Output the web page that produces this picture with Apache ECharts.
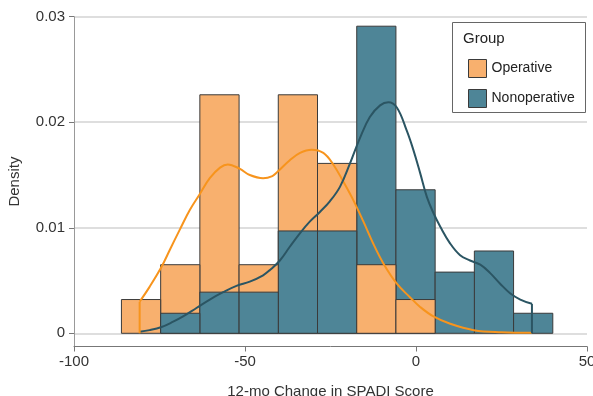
<!DOCTYPE html>
<html>
<head>
<meta charset="utf-8">
<script src="https://cdn.jsdelivr.net/npm/echarts@6/dist/echarts.min.js"></script>
<style>
html,body{margin:0;padding:0;background:#fff;}
#chart{width:593px;height:396px;}
</style>
</head>
<body>
<div id="chart"></div>
<script>
// ---- data ----
const binEdges = [-86.13, -74.66, -63.20, -51.73, -40.27, -28.80, -17.33, -5.87, 5.60, 17.06, 28.53, 40.0];
const operativeDensity    = [0.0032, 0.0065, 0.0226, 0.0065, 0.0226, 0.0161, 0.0065, 0.0032, 0, 0, 0];
const nonoperativeDensity = [0, 0.0019, 0.0039, 0.0039, 0.0097, 0.0097, 0.0291, 0.0136, 0.0058, 0.0078, 0.0019];

const opCurveX = [-80.8, -77.9, -74.4, -72.0, -69.1, -66.1, -63.2, -60.3, -57.3, -55.0, -51.6, -48.6, -44.7, -42.0, -40.5, -36.9, -33.9, -30.5, -27.1, -24.2, -21.3, -18.3, -15.4, -12.5, -9.5, -5.6, -1.7, 1.2, 5.1, 10.0, 16.9, 25.0, 33.9];
const opCurveY = [0.0030, 0.0044, 0.0063, 0.0079, 0.0098, 0.0117, 0.0132, 0.0147, 0.0157, 0.0160, 0.0156, 0.0150, 0.0147, 0.0149, 0.0153, 0.0164, 0.0171, 0.0174, 0.0171, 0.0160, 0.0144, 0.0126, 0.0106, 0.0085, 0.0066, 0.0047, 0.0034, 0.0025, 0.0016, 0.0009, 0.0003, 0.0001, 0.00005];

const nonCurveX = [-80.8, -77.9, -74.4, -71.0, -68.1, -64.2, -60.3, -56.4, -52.5, -48.6, -44.7, -42.7, -39.8, -36.9, -33.9, -31.0, -28.1, -25.2, -22.2, -19.3, -16.4, -13.5, -10.5, -8.1, -5.6, -2.7, -0.8, 1.2, 3.2, 5.1, 7.1, 10.0, 12.9, 15.8, 18.8, 21.7, 24.6, 27.5, 30.5, 33.9];
const nonCurveY = [0.00015, 0.0003, 0.0006, 0.0011, 0.0016, 0.0024, 0.0032, 0.0039, 0.0045, 0.0049, 0.0055, 0.0060, 0.0069, 0.0082, 0.0095, 0.0106, 0.0115, 0.0125, 0.0139, 0.0161, 0.0185, 0.0205, 0.0216, 0.0219, 0.0214, 0.0192, 0.0174, 0.0152, 0.0129, 0.0114, 0.0101, 0.0085, 0.0074, 0.0069, 0.0065, 0.0057, 0.0047, 0.0038, 0.0032, 0.0028];

const xTicks = [-100, -50, 0, 50];
const yTicks = [0, 0.01, 0.02, 0.03];
const groupNames = ['Operative', 'Nonoperative'];

// ---- styles ----
const FONT = '"Liberation Sans", Arial, sans-serif';
const opFill = '#F8B06E', nonFill = '#4E8597';
const opLine = '#F7941D', nonLine = '#2B5563';
const barStroke = '#3a3a3a';

function binData(dens) {
  return dens.map((d, i) => [binEdges[i], binEdges[i + 1], d]);
}
function makeRender(fill) {
  return function (params, api) {
    const h = api.value(2);
    if (!h) return null;
    const p0 = api.coord([api.value(0), h]);
    const p1 = api.coord([api.value(1), 0]);
    return {
      type: 'rect',
      shape: { x: p0[0], y: p0[1], width: p1[0] - p0[0], height: p1[1] - p0[1] },
      style: { fill: fill, stroke: barStroke, lineWidth: 1 },
      z2: Math.round((0.05 - h) * 10000)
    };
  };
}
const pairs = (xs, ys) => xs.map((x, i) => [x, ys[i]]);

const chart = echarts.init(document.getElementById('chart'), null, { renderer: 'canvas' });
const lastN = nonCurveX.length - 1;
chart.setOption({
  animation: false,
  backgroundColor: '#fff',
  textStyle: { fontFamily: FONT },
  grid: { left: 74, right: 6, top: 16.7, bottom: 49.5, containLabel: false, outerBoundsMode: 'none' },
  xAxis: {
    type: 'value', min: -100, max: 50, interval: 50,
    name: '12-mo Change in SPADI Score', nameLocation: 'middle', nameGap: 38,
    nameTextStyle: { fontSize: 15, color: '#333', fontFamily: FONT },
    axisLine: { show: true, onZero: false, lineStyle: { color: '#777', width: 1 } },
    axisTick: { show: true, length: 5, lineStyle: { color: '#777' }, customValues: xTicks },
    axisLabel: { fontSize: 15, color: '#333', margin: 8, fontFamily: FONT, customValues: xTicks },
    splitLine: { show: false }
  },
  yAxis: {
    type: 'value', min: -0.00125, max: 0.03,
    name: 'Density', nameLocation: 'middle', nameGap: 52,
    nameTextStyle: { fontSize: 15, color: '#333', fontFamily: FONT },
    axisLine: { show: true, onZero: false, lineStyle: { color: '#999', width: 1 } },
    axisTick: { show: true, length: 5, lineStyle: { color: '#777' }, customValues: yTicks },
    axisLabel: { fontSize: 15, color: '#333', margin: 9, fontFamily: FONT, customValues: yTicks,
      formatter: v => (v === 0 ? '0' : v.toFixed(2)) },
    splitLine: { show: true, lineStyle: { color: '#DEDEDE', width: 2 } }
  },
  legend: {
    orient: 'vertical', left: 463, top: 54, itemWidth: 18, itemHeight: 18, itemGap: 11,
    selectedMode: false, icon: 'rect',
    textStyle: { fontSize: 14, color: '#222', fontFamily: FONT },
    data: [
      { name: groupNames[0], itemStyle: { color: opFill, borderColor: barStroke, borderWidth: 1 } },
      { name: groupNames[1], itemStyle: { color: nonFill, borderColor: barStroke, borderWidth: 1 } }
    ],
    z: 10
  },
  graphic: [
    { type: 'rect', z: 8, shape: { x: 452.5, y: 22.5, width: 133, height: 90 },
      style: { fill: '#fff', stroke: '#666', lineWidth: 1 } },
    { type: 'text', z: 9, x: 463, y: 38.5,
      style: { text: 'Group', fontSize: 15, fill: '#222', fontFamily: FONT, verticalAlign: 'middle' } }
  ],
  series: [
    { name: groupNames[0], type: 'custom', silent: true, z: 2,
      itemStyle: { color: opFill, borderColor: barStroke, borderWidth: 1 },
      encode: { x: [0, 1], y: 2 },
      data: binData(operativeDensity), renderItem: makeRender(opFill) },
    { name: groupNames[1], type: 'custom', silent: true, z: 2,
      itemStyle: { color: nonFill, borderColor: barStroke, borderWidth: 1 },
      encode: { x: [0, 1], y: 2 },
      data: binData(nonoperativeDensity), renderItem: makeRender(nonFill) },
    { name: 'opCurve', type: 'line', smooth: 0.4, symbol: 'none', silent: true, z: 5,
      lineStyle: { color: opLine, width: 2 }, data: pairs(opCurveX, opCurveY) },
    { name: 'nonCurve', type: 'line', smooth: 0.4, symbol: 'none', silent: true, z: 5,
      lineStyle: { color: nonLine, width: 2 }, data: pairs(nonCurveX, nonCurveY) },
    { name: 'opEdge', type: 'line', symbol: 'none', silent: true, z: 5,
      lineStyle: { color: opLine, width: 2 }, data: [[opCurveX[0], 0], [opCurveX[0], opCurveY[0]]] },
    { name: 'nonEdge', type: 'line', symbol: 'none', silent: true, z: 5,
      lineStyle: { color: nonLine, width: 2 }, data: [[nonCurveX[lastN], nonCurveY[lastN]], [nonCurveX[lastN], 0]] }
  ]
});
</script>
</body>
</html>
